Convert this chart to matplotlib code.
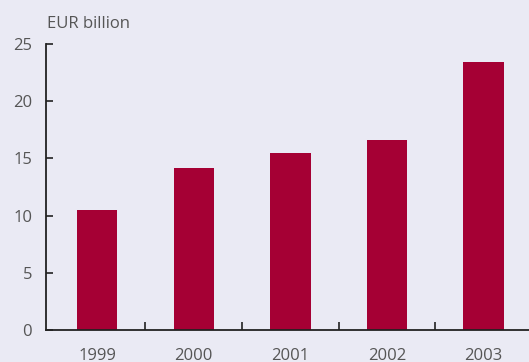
import matplotlib
matplotlib.use("Agg")
import matplotlib.pyplot as plt

years = ["1999", "2000", "2001", "2002", "2003"]
values = [10.5, 14.15, 15.45, 16.6, 23.4]
yticks = [0, 5, 10, 15, 20, 25]

bg = "#EAEAF4"
bar_color = "#A50034"
text_color = "#555555"

plt.rcParams['font.family'] = ['Open Sans', 'DejaVu Sans']

fig = plt.figure(figsize=(5.29, 3.62), dpi=100, facecolor=bg)
ax = fig.add_axes([46/529, 32/362, 1 - 46/529, (330-44)/362])
ax.set_facecolor(bg)

x = list(range(len(years)))
ax.bar(x, values, width=0.42, color=bar_color, zorder=2)

ax.set_xlim(-0.53, 4.47)
ax.set_ylim(0, 25)

for s in ["top", "right"]:
    ax.spines[s].set_visible(False)
for s in ["left", "bottom"]:
    ax.spines[s].set_color("#222222")
    ax.spines[s].set_linewidth(1.3)

ax.set_yticks(yticks)
ax.set_yticklabels([str(v) for v in yticks])
ax.tick_params(axis="y", direction="in", length=5, width=1.2, color="#222222",
               pad=10, labelsize=12, labelcolor=text_color)

ax.set_xticks([i + 0.5 for i in range(len(years) - 1)])
ax.set_xticklabels([])
ax.tick_params(axis="x", direction="in", length=5.5, width=1.2, color="#222222")
for i, yr in enumerate(years):
    ax.annotate(yr, xy=(i, 0), xycoords=("data", "axes fraction"),
                xytext=(0, -26), textcoords="offset pixels",
                ha="center", va="center", fontsize=12, color=text_color)

ax.annotate("EUR billion", xy=(0, 1), xycoords="axes fraction",
            xytext=(1, 16), textcoords="offset pixels",
            ha="left", va="baseline", fontsize=12, color=text_color)

fig.savefig("out.png", dpi=100, facecolor=bg)
